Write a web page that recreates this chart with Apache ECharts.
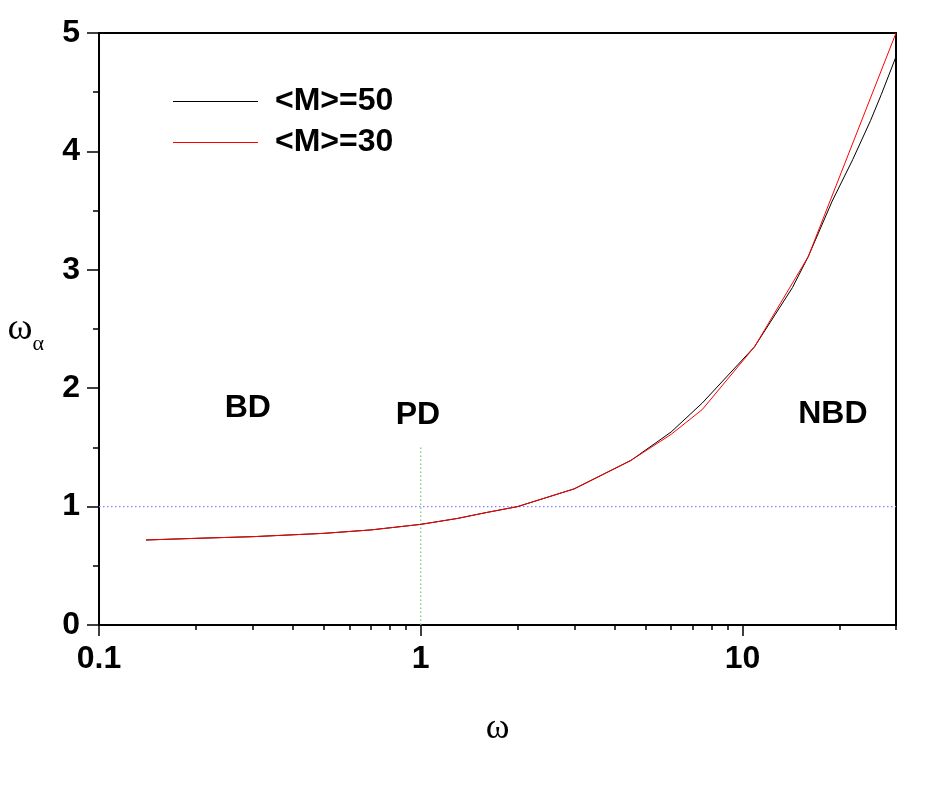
<!DOCTYPE html>
<html>
<head>
<meta charset="utf-8">
<title>omega_alpha vs omega</title>
<script src="https://cdn.jsdelivr.net/npm/echarts@6/dist/echarts.min.js"></script>
<style>
  html, body { margin: 0; padding: 0; background: #fff; }
  #chart { width: 932px; height: 793px; }
</style>
</head>
<body>
<div id="chart"></div>
<script>
// valeurs
const omega50 = [0.14, 0.2, 0.3, 0.5, 0.7, 1, 1.3, 1.6, 2, 3, 4.5, 6, 7.5, 10.9, 14.3, 16, 19, 22, 25, 27, 30];
const alpha50 = [0.718, 0.732, 0.746, 0.774, 0.803, 0.85, 0.90, 0.95, 1.0, 1.15, 1.39, 1.63, 1.875, 2.35, 2.85, 3.11, 3.58, 3.93, 4.26, 4.48, 4.80];

const omega30 = [0.14, 0.2, 0.3, 0.5, 0.7, 1, 1.3, 1.6, 2, 3, 4.5, 6, 7.5, 10.9, 16, 30];
const alpha30 = [0.718, 0.732, 0.746, 0.774, 0.803, 0.85, 0.90, 0.95, 1.0, 1.15, 1.39, 1.61, 1.82, 2.35, 3.11, 5.0];

const seriesNames = ['<M>=50', '<M>=30'];

// lignes de repere
const refHorizX = [0.1, 30];
const refHorizY = [1, 1];
const refVertX = [1, 1];
const refVertY = [0, 1.5];

// zones
const regionNames = ['BD', 'PD', 'NBD'];
const regionX = [0.29, 0.98, 19.1];
const regionY = [1.83, 1.77, 1.78];

// graduations
const xMajorTicks = [0.1, 1, 10];
const xMinorTicks = [0.2, 0.3, 0.4, 0.5, 0.6, 0.7, 0.8, 0.9, 2, 3, 4, 5, 6, 7, 8, 9, 20, 30];

const zip = (xs, ys) => xs.map((x, i) => [x, ys[i]]);

const chart = echarts.init(document.getElementById('chart'));
const labelFont = { fontFamily: 'Liberation Sans, Arial, sans-serif', fontWeight: 'bold', fontSize: 32, color: '#000' };

const option = {
    animation: false,
    backgroundColor: '#fff',
    grid: {
        left: 99, right: 36, top: 33, bottom: 168,
        outerBoundsMode: 'none', containLabel: false,
        show: true, borderColor: '#000', borderWidth: 2
    },
    legend: {
        data: seriesNames,
        orient: 'vertical',
        left: 168,
        top: 76,
        itemGap: 0,
        itemWidth: 85,
        itemHeight: 1,
        icon: 'rect',
        textStyle: Object.assign({}, labelFont, { lineHeight: 41, padding: [0, 0, 0, 12] })
    },
    xAxis: [{
        type: 'log',
        logBase: 10,
        min: 0.1,
        max: 30,
        position: 'bottom',
        name: 'ω',
        nameLocation: 'middle',
        nameGap: 86,
        nameTextStyle: { fontFamily: 'Liberation Serif, DejaVu Serif, serif', fontSize: 36, color: '#000' },
        axisLine: { lineStyle: { color: '#000', width: 2 } },
        axisTick: { customValues: xMajorTicks, length: 11, lineStyle: { color: '#000', width: 1.5 } },
        axisLabel: Object.assign({ customValues: xMajorTicks, margin: 18 }, labelFont),
        splitLine: { show: false },
        minorTick: { show: false }
    }, {
        type: 'log',
        logBase: 10,
        min: 0.1,
        max: 30,
        position: 'bottom',
        axisLine: { show: false },
        axisTick: { customValues: xMinorTicks, length: 5, lineStyle: { color: '#000', width: 1.5 } },
        axisLabel: { show: false },
        splitLine: { show: false }
    }],
    yAxis: {
        type: 'value',
        min: 0,
        max: 5,
        interval: 1,
        name: '{w|ω}{a|α}',
        nameLocation: 'middle',
        nameRotate: 0,
        nameGap: 55,
        nameTextStyle: {
            rich: {
                w: { fontFamily: 'Liberation Serif, DejaVu Serif, serif', fontSize: 38, color: '#000' },
                a: { fontFamily: 'Liberation Serif, DejaVu Serif, serif', fontSize: 22, color: '#000', padding: [30, 0, 0, 0] }
            }
        },
        axisLine: { lineStyle: { color: '#000', width: 2 } },
        axisTick: { length: 12, lineStyle: { color: '#000', width: 1.5 } },
        minorTick: { show: true, splitNumber: 2, length: 6, lineStyle: { color: '#000', width: 1.5 } },
        axisLabel: Object.assign({ margin: 19 }, labelFont),
        splitLine: { show: false }
    },
    series: [
        {
            type: 'line',
            data: zip(refHorizX, refHorizY),
            showSymbol: false,
            lineStyle: { color: '#8080ff', width: 1.2, type: [1.5, 2.5] },
            silent: true
        },
        {
            type: 'line',
            data: zip(refVertX, refVertY),
            showSymbol: false,
            lineStyle: { color: '#7cc07c', width: 1.2, type: [1.5, 2.5] },
            silent: true
        },
        {
            name: seriesNames[0],
            type: 'line',
            data: zip(omega50, alpha50),
            showSymbol: false,
            itemStyle: { color: '#000' },
            lineStyle: { color: '#000', width: 1 }
        },
        {
            name: seriesNames[1],
            type: 'line',
            data: zip(omega30, alpha30),
            showSymbol: false,
            itemStyle: { color: '#ff0000' },
            lineStyle: { color: '#ff0000', width: 1 }
        },
        {
            type: 'scatter',
            symbolSize: 0,
            itemStyle: { color: '#000', opacity: 1 },
            data: regionX.map((x, i) => [x, regionY[i], regionNames[i]]),
            label: Object.assign({
                show: true,
                position: 'inside',
                textBorderWidth: 0,
                formatter: p => p.data[2]
            }, labelFont),
            silent: true
        }
    ]
};
chart.setOption(option);
</script>
</body>
</html>
